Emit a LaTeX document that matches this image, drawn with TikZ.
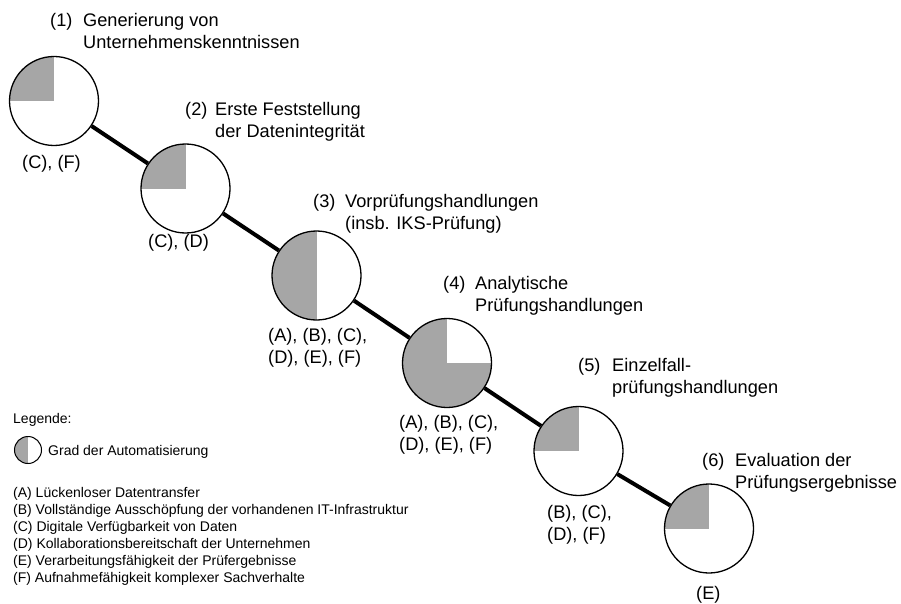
\documentclass[tikz,border=0pt]{standalone}
\usepackage{fontspec}
\setmainfont{Liberation Sans}
\definecolor{autograu}{RGB}{166,166,166}

\begin{document}
\begin{tikzpicture}[x=1pt,y=-1pt,font=\fontsize{18.2}{22}\selectfont,
    stufe/.style={circle,draw,line width=1.3pt,fill=white,
      minimum size=89pt,inner sep=0pt},
    viertel/.style={path picture={\fill[autograu] (path picture bounding box.north west)
      rectangle (path picture bounding box.center);}},
    haelfte/.style={path picture={\fill[autograu] (path picture bounding box.north west)
      rectangle (path picture bounding box.south);}},
    dreiviertel/.style={path picture={
      \fill[autograu] (path picture bounding box.north west) rectangle (path picture bounding box.south);
      \fill[autograu] (path picture bounding box.south west) rectangle (path picture bounding box.east);}},
    verbindung/.style={line width=4pt},
    txt/.style={inner sep=0pt,anchor=base west,align=left},
    legtxt/.style={txt,font=\fontsize{14}{17}\selectfont}]
    \useasboundingbox (0,0) rectangle (901,604);
    % Prozessschritte
    \node[stufe,viertel] (s1) at (54,101) {};
    \node[stufe,viertel] (s2) at (185.5,188.5) {};
    \node[stufe,haelfte] (s3) at (316.5,275.5) {};
    \node[stufe,dreiviertel] (s4) at (447,363) {};
    \node[stufe,viertel] (s5) at (578.5,451) {};
    \node[stufe,viertel] (s6) at (709,528.5) {};
    \foreach \a/\b in {s1/s2,s2/s3,s3/s4,s4/s5,s5/s6}
      \draw[verbindung] (\a) -- (\b);
    % Bezeichnungen (Basislinie der letzten Zeile)
    \node[txt] (n1) at (50,27) {(1)};
    \node[txt] (t1) at (83,49) {Generierung von\\Unternehmenskenntnissen};
    \node[txt] (n2) at (185,115.5) {(2)};
    \node[txt] (t2) at (215,137.5) {Erste Feststellung\\der Datenintegrität};
    \node[txt] (n3) at (313,207.5) {(3)};
    \node[txt] (t3) at (345,229.5) {Vorprüfungshandlungen\\(insb. IKS-Prüfung)};
    \node[txt] (n4) at (443,289.5) {(4)};
    \node[txt] (t4) at (475,311.5) {Analytische\\Prüfungshandlungen};
    \node[txt] (n5) at (578,371.5) {(5)};
    \node[txt] (t5) at (612,393.5) {Einzelfall-\\prüfungshandlungen};
    \node[txt] (n6) at (702,466.5) {(6)};
    \node[txt] (t6) at (735,488.5) {Evaluation der\\Prüfungsergebnisse};
    % Voraussetzungen
    \node[txt] (v1) at (22,168.5) {(C), (F)};
    \node[txt] (v2) at (148,247.5) {(C), (D)};
    \node[txt] (v3) at (268,363) {(A), (B), (C),\\(D), (E), (F)};
    \node[txt] (v4) at (399,450) {(A), (B), (C),\\(D), (E), (F)};
    \node[txt] (v5) at (547,540) {(B), (C),\\(D), (F)};
    \node[txt] (v6) at (696,599.5) {(E)};
    % Legende
    \node[legtxt] (leg) at (13,423) {Legende:};
    \node[circle,draw,line width=1pt,fill=white,minimum size=27pt,inner sep=0pt,haelfte]
      (legkreis) at (28,450) {};
    \node[legtxt] (legauto) at (48,455) {Grad der Automatisierung};
    \node[legtxt] (liste) at (13,582) {(A) Lückenloser Datentransfer\\
      (B) Vollständige Ausschöpfung der vorhandenen IT-Infrastruktur\\
      (C) Digitale Verfügbarkeit von Daten\\
      (D) Kollaborationsbereitschaft der Unternehmen\\
      (E) Verarbeitungsfähigkeit der Prüfergebnisse\\
      (F) Aufnahmefähigkeit komplexer Sachverhalte};
\end{tikzpicture}
\end{document}
